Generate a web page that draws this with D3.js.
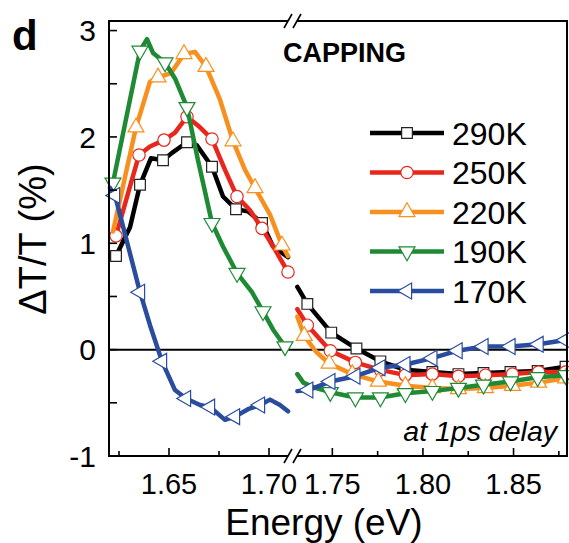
<!DOCTYPE html>
<html>
<head>
<meta charset="utf-8">
<script src="https://cdn.jsdelivr.net/npm/d3@7"></script>
<style>
body { margin: 0; background: #fff; }
svg { font-family: "Liberation Sans", Arial, Helvetica, sans-serif; }
</style>
</head>
<body>
<div id="chart"></div>
<script>
// series labels and colours
const labels = ["290K", "250K", "220K", "190K", "170K"];
const colors = ["#000000", "#e8261c", "#f7901e", "#1f8a34", "#2a4c9f"];

// [energy (eV), dT/T (%), marker?]  left segment (below the axis break)
const k290Left = [[1.6235,0.88,1],[1.6305,1.15,0],[1.6355,1.55,1],[1.641,1.80,0],[1.647,1.78,1],[1.6515,1.85,0],[1.659,1.95,1],[1.664,1.92,0],[1.6715,1.72,1],[1.677,1.44,0],[1.6835,1.32,1],[1.6895,1.30,0],[1.6965,1.19,1],[1.702,0.97,0],[1.7095,0.87,0]];
const k250Left = [[1.6235,1.07,1],[1.6295,1.47,0],[1.635,1.83,1],[1.6405,1.91,0],[1.6475,1.97,1],[1.653,2.04,0],[1.659,2.19,1],[1.6655,2.09,0],[1.6715,1.98,1],[1.678,1.69,0],[1.684,1.44,1],[1.6905,1.31,0],[1.6965,1.14,1],[1.703,0.94,0],[1.7095,0.73,1]];
const k220Left = [[1.622,1.11,0],[1.6335,2.09,1],[1.6405,2.52,0],[1.6445,2.56,1],[1.651,2.60,0],[1.6575,2.78,1],[1.663,2.80,0],[1.6685,2.66,1],[1.6755,2.35,0],[1.682,1.96,1],[1.688,1.69,0],[1.693,1.52,1],[1.7005,1.27,0],[1.7065,0.98,1],[1.7095,0.88,0]];
const k190Left = [[1.622,1.57,1],[1.6355,2.81,1],[1.639,2.92,0],[1.642,2.79,0],[1.648,2.70,1],[1.653,2.55,0],[1.659,2.28,1],[1.6645,1.78,0],[1.6715,1.19,1],[1.677,0.97,0],[1.684,0.72,1],[1.6915,0.54,0],[1.697,0.36,1],[1.702,0.19,0],[1.708,0.03,1]];
const k170Left = [[1.6205,1.52,0],[1.623,1.45,1],[1.6355,0.54,1],[1.6405,0.23,0],[1.6465,-0.11,1],[1.653,-0.38,0],[1.6585,-0.46,1],[1.6655,-0.52,0],[1.6705,-0.54,1],[1.678,-0.66,0],[1.683,-0.63,1],[1.6895,-0.56,0],[1.6955,-0.52,1],[1.7005,-0.47,0],[1.7055,-0.52,0],[1.7095,-0.58,0]];

// right segment (above the axis break)
const k290Right = [[1.7307,0.59,0],[1.7362,0.43,1],[1.7494,0.16,1],[1.7633,0.01,1],[1.7765,-0.11,1],[1.7903,-0.19,1],[1.8052,-0.21,1],[1.8196,-0.23,1],[1.8334,-0.22,1],[1.8483,-0.21,1],[1.8633,-0.20,1],[1.8787,-0.16,1]];
const k250Right = [[1.7307,0.38,0],[1.7362,0.23,1],[1.7489,-0.01,1],[1.7627,-0.12,1],[1.7765,-0.19,1],[1.7903,-0.24,1],[1.8052,-0.23,1],[1.8196,-0.25,1],[1.8345,-0.24,1],[1.8494,-0.23,1],[1.8638,-0.21,1],[1.8787,-0.21,1]];
const k220Right = [[1.7307,0.31,0],[1.7345,0.13,1],[1.741,-0.02,0],[1.7483,-0.13,1],[1.761,-0.23,1],[1.7754,-0.30,1],[1.7903,-0.34,1],[1.8052,-0.36,1],[1.8196,-0.37,1],[1.8345,-0.36,1],[1.8494,-0.34,1],[1.8638,-0.31,1],[1.8787,-0.27,1]];
const k190Right = [[1.7307,-0.23,0],[1.734,-0.31,0],[1.7406,-0.36,0],[1.7489,-0.40,1],[1.7627,-0.45,1],[1.7765,-0.45,1],[1.7903,-0.41,1],[1.8052,-0.39,1],[1.8196,-0.36,1],[1.8334,-0.33,1],[1.8483,-0.30,1],[1.8633,-0.26,1],[1.8787,-0.24,1]];
const k170Right = [[1.7307,-0.39,0],[1.7367,-0.38,1],[1.7489,-0.30,1],[1.7627,-0.25,1],[1.7765,-0.17,1],[1.7903,-0.14,1],[1.8052,-0.08,1],[1.8191,-0.01,1],[1.8334,0.03,1],[1.8483,0.03,1],[1.8638,0.05,1],[1.8787,0.09,1]];

const leftSeries = [k290Left, k250Left, k220Left, k190Left, k170Left];
const rightSeries = [k290Right, k250Right, k220Right, k190Right, k170Right];

// axis ticks
const yMajor = [-1, 0, 1, 2, 3];
const yMinor = [-0.5, 0.5, 1.5, 2.5];
const xLMajor = [1.65, 1.70];
const xLMinor = [1.625, 1.675];
const xRMajor = [1.75, 1.80, 1.85];
const xRMinor = [1.775, 1.825, 1.875];

const W = 569, H = 543;
const svg = d3.select("#chart").append("svg")
    .attr("width", W)
    .attr("height", H);

const xL = d3.scaleLinear().domain([1.62, 1.7095]).range([109, 288]);
const xR = d3.scaleLinear().domain([1.7305, 1.8795]).range([297, 567]);
const y = d3.scaleLinear().domain([-1, 3.09]).range([456, 21]);

const symbols = [
    {type: d3.symbolSquare, size: 115, rot: 0},
    {type: d3.symbolCircle, size: 120, rot: 0},
    {type: d3.symbolTriangle, size: 110, rot: 0},
    {type: d3.symbolTriangle, size: 110, rot: 180},
    {type: d3.symbolTriangle, size: 110, rot: -90}
];
const markStroke = ["#222", "#e8261c", "#f7901e", "#1f8a34", "#2a4c9f"];

// zero line
svg.append("line")
    .attr("x1", 109).attr("x2", 567)
    .attr("y1", y(0)).attr("y2", y(0))
    .attr("stroke", "#000").attr("stroke-width", 2);

function drawSeries(data, x, i) {
    const line = d3.line().x(d => x(d[0])).y(d => y(d[1]));
    svg.append("path")
        .datum(data)
        .attr("d", line)
        .attr("fill", "none")
        .attr("stroke", colors[i])
        .attr("stroke-width", 4.5)
        .attr("stroke-linejoin", "round")
        .attr("stroke-linecap", "round");
    const s = symbols[i];
    svg.append("g").selectAll("path")
        .data(data.filter(d => d[2]))
        .enter().append("path")
        .attr("d", d3.symbol().type(s.type).size(s.size))
        .attr("transform", d => `translate(${x(d[0])},${y(d[1])}) rotate(${s.rot})`)
        .attr("fill", "#fff")
        .attr("stroke", markStroke[i])
        .attr("stroke-width", 1.2);
}

labels.forEach((lab, i) => {
    drawSeries(leftSeries[i], xL, i);
    drawSeries(rightSeries[i], xR, i);
});

// frame with axis break
const frame = svg.append("g").attr("stroke", "#000").attr("stroke-width", 2).attr("fill", "none");
frame.append("line").attr("x1", 109).attr("x2", 109).attr("y1", 20).attr("y2", 457);
frame.append("line").attr("x1", 567).attr("x2", 567).attr("y1", 20).attr("y2", 457);
[21, 456].forEach(yy => {
    frame.append("line").attr("x1", 108).attr("x2", 288).attr("y1", yy).attr("y2", yy);
    frame.append("line").attr("x1", 297).attr("x2", 568).attr("y1", yy).attr("y2", yy);
    [288, 297].forEach(xx => {
        frame.append("line")
            .attr("x1", xx - 4).attr("y1", yy + 7)
            .attr("x2", xx + 4).attr("y2", yy - 7)
            .attr("stroke-width", 1.6);
    });
});

// y ticks
const yt = svg.append("g").attr("stroke", "#000").attr("stroke-width", 1.6);
yMajor.concat(yMinor).forEach(v => {
    yt.append("line").attr("x1", 109).attr("x2", 117).attr("y1", y(v)).attr("y2", y(v));
});
svg.append("g").selectAll("text")
    .data(yMajor)
    .enter().append("text")
    .attr("x", 96)
    .attr("y", d => y(d))
    .attr("dy", "0.36em")
    .attr("text-anchor", "end")
    .style("font-size", "30px")
    .text(d => d);

// x ticks
function xTicks(scale, major, minor) {
    major.forEach(v => {
        yt.append("line").attr("x1", scale(v)).attr("x2", scale(v)).attr("y1", 456).attr("y2", 448);
    });
    minor.forEach(v => {
        yt.append("line").attr("x1", scale(v)).attr("x2", scale(v)).attr("y1", 456).attr("y2", 451);
    });
    svg.append("g").selectAll("text")
        .data(major)
        .enter().append("text")
        .attr("x", d => scale(d))
        .attr("y", 494)
        .attr("text-anchor", "middle")
        .style("font-size", "29px")
        .text(d => d.toFixed(2));
}
xTicks(xL, xLMajor, xLMinor);
xTicks(xR, xRMajor, xRMinor);

// axis titles
svg.append("text")
    .attr("x", 324)
    .attr("y", 535)
    .attr("text-anchor", "middle")
    .style("font-size", "37px")
    .text("Energy (eV)");

svg.append("text")
    .attr("transform", "translate(46,239) rotate(-90)")
    .attr("text-anchor", "middle")
    .style("font-size", "38px")
    .text("ΔT/T (%)");

// panel letter and annotations
svg.append("text")
    .attr("x", 12).attr("y", 50)
    .style("font-size", "42px").style("font-weight", "bold")
    .text("d");

svg.append("text")
    .attr("x", 283).attr("y", 62)
    .style("font-size", "27px").style("font-weight", "bold")
    .text("CAPPING");

svg.append("text")
    .attr("x", 557).attr("y", 441)
    .attr("text-anchor", "end")
    .style("font-size", "28.5px").style("font-style", "italic")
    .text("at 1ps delay");

// legend
const legend = svg.append("g");
labels.forEach((lab, i) => {
    const ly = 133 + i * 39.5;
    legend.append("line")
        .attr("x1", 370).attr("x2", 444)
        .attr("y1", ly).attr("y2", ly)
        .attr("stroke", colors[i]).attr("stroke-width", 4.5);
    const s = symbols[i];
    legend.append("path")
        .attr("d", d3.symbol().type(s.type).size(s.size))
        .attr("transform", `translate(407,${ly}) rotate(${s.rot})`)
        .attr("fill", "#fff")
        .attr("stroke", markStroke[i])
        .attr("stroke-width", 1.2);
    legend.append("text")
        .attr("x", 452).attr("y", ly)
        .attr("dy", "0.36em")
        .style("font-size", "32px")
        .text(lab);
});
</script>
</body>
</html>
